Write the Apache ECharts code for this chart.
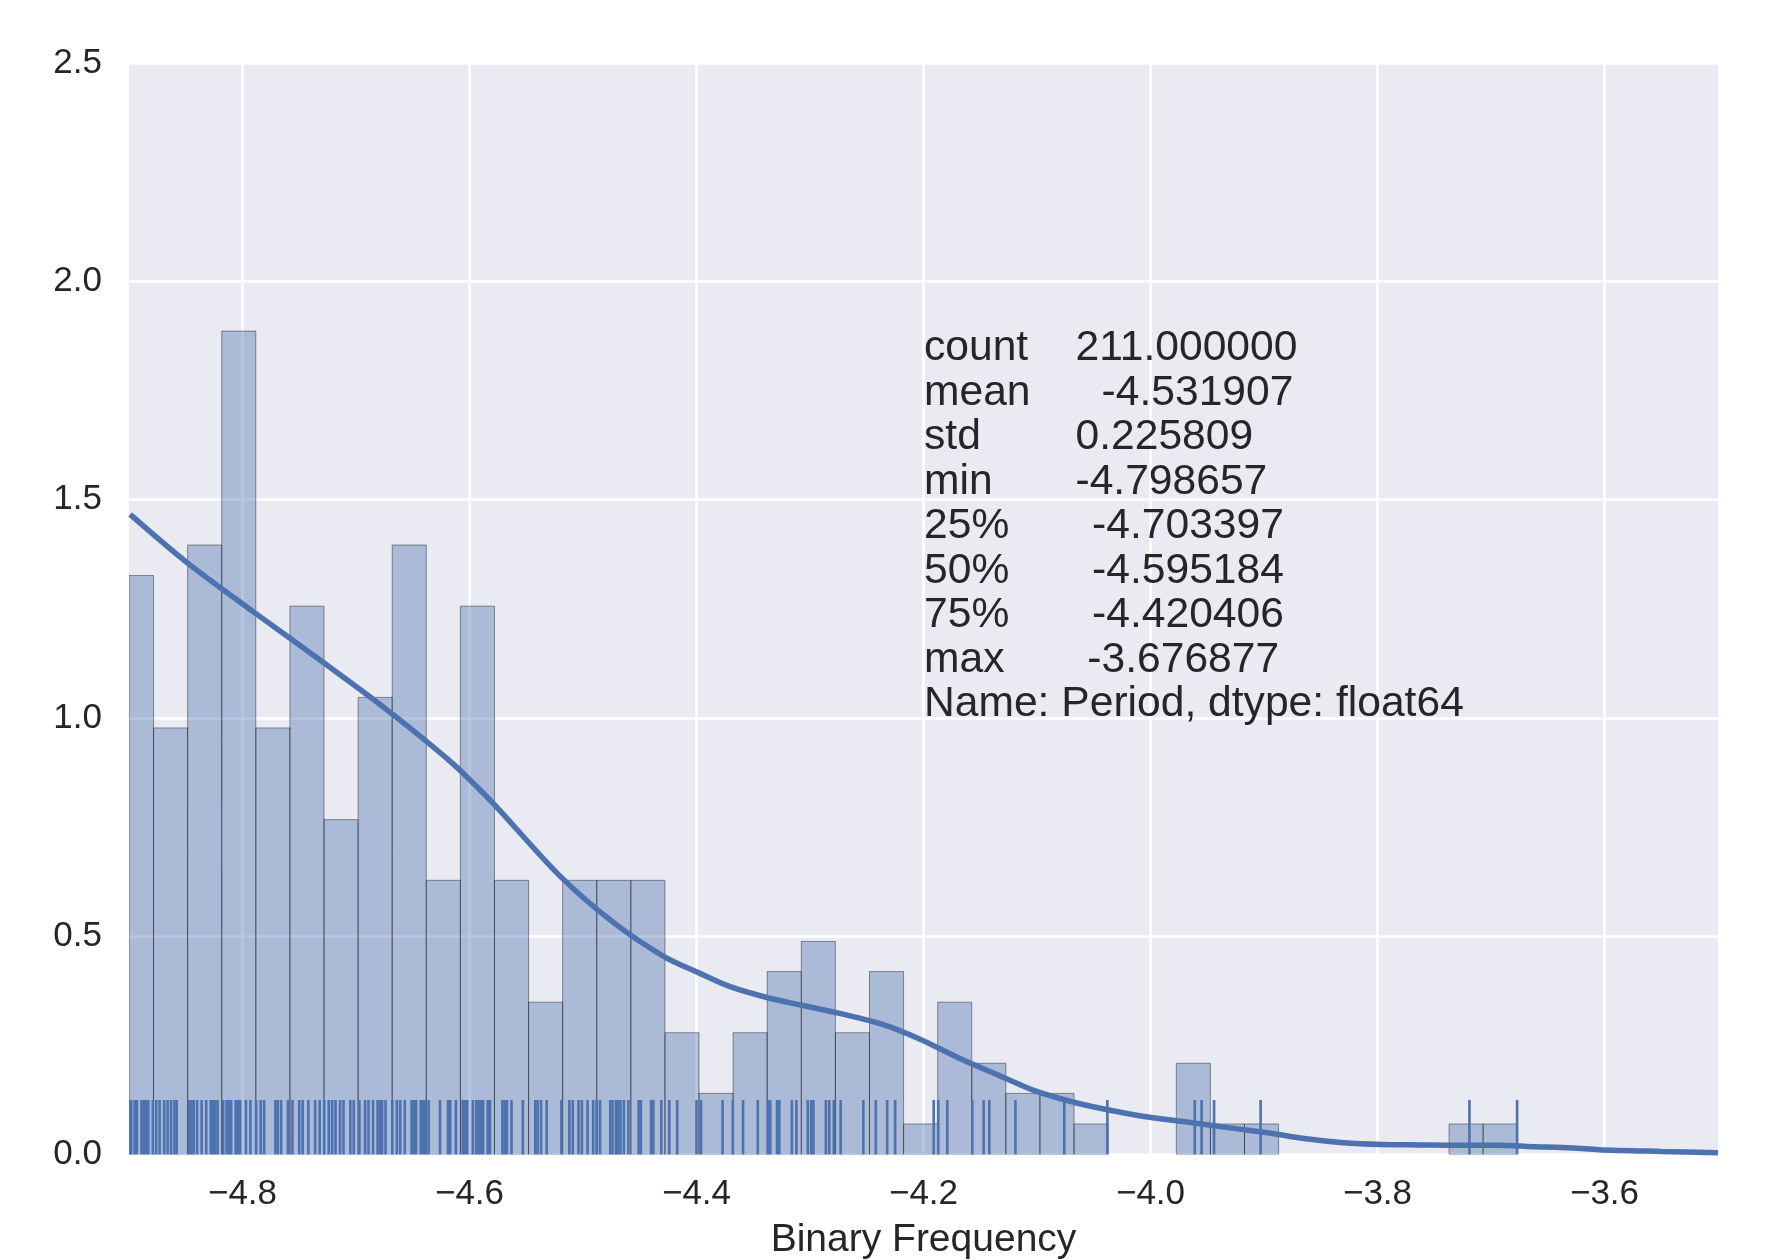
<!DOCTYPE html>
<html>
<head>
<meta charset="utf-8">
<script src="https://cdn.jsdelivr.net/npm/echarts@6/dist/echarts.min.js"></script>
<style>
html,body{margin:0;padding:0;background:#ffffff;}
#chart{width:1773px;height:1260px;}
</style>
</head>
<body>
<div id="chart"></div>
<script>
// ---- axis ranges & ticks ----
const xMin = -4.9, xMax = -3.5;
const xTickValues = [-4.8, -4.6, -4.4, -4.2, -4.0, -3.8, -3.6];
const yMin = 0, yMax = 2.5, yInterval = 0.5;

// ---- histogram (density) ----
const binStart = -4.9084;
const binWidth = 0.030037;
const binHeights = [1.326, 0.977, 1.396, 1.886, 0.977, 1.256, 0.767, 1.047, 1.396, 0.628,
                    1.256, 0.628, 0.349, 0.628, 0.628, 0.628, 0.279, 0.140, 0.279, 0.419,
                    0.488, 0.279, 0.419, 0.070, 0.349, 0.209, 0.140, 0.140, 0.070, 0,
                    0, 0.209, 0.070, 0.070, 0, 0, 0, 0, 0, 0.070,
                    0.070];

// ---- KDE curve (x, density) ----
const kdeX = [-4.899, -4.850, -4.791, -4.732, -4.673, -4.615, -4.585, -4.574, -4.520, -4.473,
              -4.429, -4.398, -4.371, -4.337, -4.304, -4.270, -4.236, -4.202, -4.169, -4.135,
              -4.101, -4.065, -4.031, -3.998, -3.964, -3.930, -3.897, -3.863, -3.830, -3.796,
              -3.762, -3.729, -3.695, -3.661, -3.628, -3.605, -3.550, -3.500];
const kdeY = [1.466, 1.358, 1.244, 1.133, 1.019, 0.896, 0.820, 0.790, 0.637, 0.531,
              0.454, 0.416, 0.385, 0.359, 0.340, 0.321, 0.298, 0.263, 0.221, 0.183,
              0.145, 0.118, 0.099, 0.084, 0.073, 0.061, 0.050, 0.036, 0.027, 0.023,
              0.022, 0.021, 0.021, 0.018, 0.015, 0.011, 0.007, 0.004];

// ---- rug observations ----
const rugValues = [
  -4.900, -4.898, -4.895, -4.893, -4.889, -4.887, -4.885, -4.883, -4.879, -4.876,
  -4.873, -4.869, -4.866, -4.863, -4.860, -4.858, -4.847, -4.845, -4.843, -4.840,
  -4.836, -4.832, -4.828, -4.826, -4.824, -4.822, -4.817, -4.814, -4.812, -4.810,
  -4.806, -4.804, -4.802, -4.797, -4.793, -4.788, -4.784, -4.781, -4.771, -4.769,
  -4.766, -4.760, -4.756, -4.750, -4.747, -4.742, -4.736, -4.732, -4.728, -4.724,
  -4.721, -4.718, -4.714, -4.711, -4.705, -4.702, -4.697, -4.692, -4.689, -4.685,
  -4.681, -4.679, -4.677, -4.674, -4.668, -4.664, -4.661, -4.657, -4.651, -4.649,
  -4.647, -4.643, -4.641, -4.639, -4.636, -4.626, -4.619, -4.617, -4.612, -4.606,
  -4.604, -4.602, -4.597, -4.594, -4.592, -4.590, -4.588, -4.584, -4.582, -4.571,
  -4.569, -4.567, -4.563, -4.553, -4.542, -4.540, -4.537, -4.532, -4.519, -4.512,
  -4.509, -4.504, -4.501, -4.496, -4.491, -4.488, -4.485, -4.476, -4.474, -4.471,
  -4.469, -4.467, -4.464, -4.460, -4.451, -4.449, -4.440, -4.438, -4.431, -4.424,
  -4.417, -4.400, -4.396, -4.377, -4.368, -4.359, -4.346, -4.337, -4.335, -4.329,
  -4.327, -4.316, -4.312, -4.302, -4.299, -4.297, -4.286, -4.283, -4.279, -4.273,
  -4.253, -4.242, -4.232, -4.225, -4.191, -4.187, -4.179, -4.157, -4.147, -4.142,
  -4.119, -4.076, -4.038, -3.961, -3.955, -3.944, -3.903, -3.719, -3.677
];
const rugHeight = 0.125;

// ---- statistics annotation ----
const statNames = ['count', 'mean', 'std', 'min', '25%', '50%', '75%', 'max'];
const statValues = ['211.000000', '-4.531907', '0.225809', '-4.798657', '-4.703397', '-4.595184', '-4.420406', '-3.676877'];
const statFooter = 'Name: Period, dtype: float64';

const xAxisName = 'Binary Frequency';

// ---- build ----
const histData = binHeights.map((h, i) => [binStart + i * binWidth, binStart + (i + 1) * binWidth, h]);
const kdeData = kdeX.map((x, i) => [x, kdeY[i]]);
const rugData = rugValues.map(v => [v]);
const statText = statNames.map((n, i) => n.padEnd(5) + '    ' + statValues[i].padStart(10)).join('\n') + '\n' + statFooter;

const BLUE = '#4C72B0';
const FONT = 'Liberation Sans, Arial, sans-serif';
const TXT = '#262626';
const fmtMinus = v => (v < 0 ? '\u2212' : '') + Math.abs(v).toFixed(1);

const chart = echarts.init(document.getElementById('chart'), null, {renderer: 'canvas'});
chart.setOption({
  animation: false,
  backgroundColor: '#ffffff',
  grid: {left: 129, right: 55, top: 63, bottom: 105.5, show: true, backgroundColor: '#EAEAF2', borderWidth: 0,
         containLabel: false, outerBoundsMode: 'none'},
  xAxis: {
    type: 'value', min: xMin, max: xMax,
    name: xAxisName, nameLocation: 'middle', nameGap: 66.5,
    nameTextStyle: {fontFamily: FONT, fontSize: 39, color: TXT},
    axisLine: {show: false},
    axisTick: {show: false, customValues: xTickValues},
    axisLabel: {customValues: xTickValues, formatter: fmtMinus, fontFamily: FONT, fontSize: 35, color: TXT, margin: 22},
    splitLine: {show: true, lineStyle: {color: '#ffffff', width: 2.5}}
  },
  yAxis: {
    type: 'value', min: yMin, max: yMax, interval: yInterval,
    axisLine: {show: false},
    axisTick: {show: false},
    axisLabel: {formatter: v => v.toFixed(1), fontFamily: FONT, fontSize: 35, color: TXT, margin: 27},
    splitLine: {show: true, lineStyle: {color: '#ffffff', width: 2.5}}
  },
  graphic: [{
    type: 'text', left: 924, top: 326, z: 100,
    style: {text: statText, font: '42.6px ' + FONT, lineHeight: 44.5, fill: TXT}
  }],
  series: [
    {
      type: 'custom', name: 'hist', clip: true, z: 2,
      encode: {x: [0, 1], y: 2},
      data: histData,
      renderItem: (params, api) => {
        const h = api.value(2);
        if (!(h > 0)) return null;
        const x0 = Math.max(api.value(0), xMin);
        const p0 = api.coord([x0, h]);
        const p1 = api.coord([api.value(1), 0]);
        return {
          type: 'rect',
          shape: {x: p0[0], y: p0[1], width: p1[0] - p0[0], height: p1[1] - p0[1]},
          style: {fill: 'rgba(76,114,176,0.4)', stroke: 'rgba(0,0,0,0.4)', lineWidth: 1}
        };
      }
    },
    {
      type: 'line', name: 'kde', data: kdeData, smooth: 0.3, showSymbol: false, symbol: 'none',
      clip: true, z: 3,
      lineStyle: {color: BLUE, width: 5.5}
    },
    {
      type: 'custom', name: 'rug', clip: true, z: 4,
      encode: {x: 0},
      data: rugData,
      renderItem: (params, api) => {
        const x = api.value(0);
        const a = api.coord([x, 0]);
        const b = api.coord([x, rugHeight]);
        return {type: 'line', shape: {x1: a[0], y1: a[1], x2: b[0], y2: b[1]}, style: {stroke: BLUE, lineWidth: 2.6}};
      }
    }
  ]
});
</script>
</body>
</html>
